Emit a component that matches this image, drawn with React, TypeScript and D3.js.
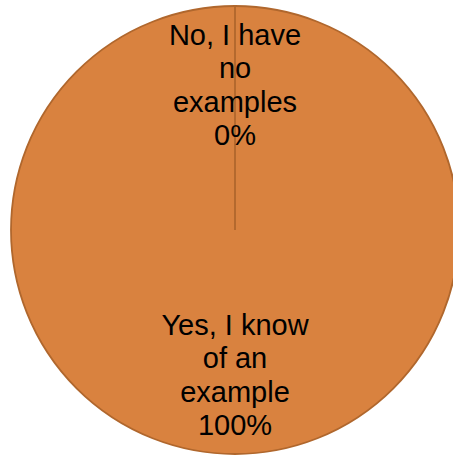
import React, { useEffect, useRef } from 'react';
import * as d3 from 'd3';

// chart data
const categories = ['No, I have no examples', 'Yes, I know of an example'];
const values = [0, 100];
const percentLabels = ['0%', '100%'];
const labelLines = [
  ['No, I have', 'no', 'examples'],
  ['Yes, I know', 'of an', 'example'],
];

const WIDTH = 453;
const HEIGHT = 455;

const App: React.FC = () => {
  const svgRef = useRef<SVGSVGElement>(null);

  useEffect(() => {
    if (!svgRef.current) return;
    const svg = d3.select(svgRef.current);
    svg.selectAll('*').remove();

    // pie runs off the right edge of the frame, as in the original
    const radius = 224;
    const cx = 235;
    const cy = 230;

    const pie = d3.pie<number>().sort(null).value(d => d);
    const arcs = pie(values);

    const arc = d3.arc<d3.PieArcDatum<number>>().innerRadius(0).outerRadius(radius);
    const labelArc = d3.arc<d3.PieArcDatum<number>>().innerRadius(145).outerRadius(145);

    const g = svg.append('g')
      .attr('transform', `translate(${cx},${cy})`);

    // full slice first, then the empty one so its edge line shows
    const order = [1, 0];
    g.selectAll('path')
      .data(order.map(i => arcs[i]))
      .join('path')
      .attr('d', d => arc(d) || '')
      .attr('fill', '#D9823F')
      .attr('stroke', '#B0672D')
      .attr('stroke-width', 1.8);

    // labels
    const lineH = 33.3;
    arcs.forEach((a, i) => {
      const [lx, ly] = labelArc.centroid(a);
      const lines = [...labelLines[i], percentLabels[i]];
      const text = g.append('text')
        .attr('text-anchor', 'middle')
        .attr('font-family', '"Liberation Sans", Arial, sans-serif')
        .attr('font-size', 29)
        .attr('fill', '#000')
        .attr('aria-label', `${categories[i]} ${percentLabels[i]}`);
      lines.forEach((ln, j) => {
        text.append('tspan')
          .attr('x', lx)
          .attr('y', ly + (j - (lines.length - 1) / 2) * lineH + 10)
          .text(ln);
      });
    });
  }, []);

  return (
    <svg
      ref={svgRef}
      width={WIDTH}
      height={HEIGHT}
      style={{ position: 'absolute', left: 0, top: 0, display: 'block', background: '#fff' }}
    />
  );
};

export default App;
